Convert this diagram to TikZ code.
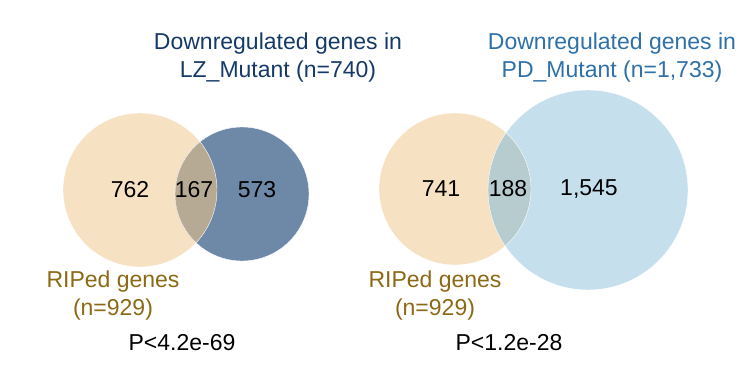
\documentclass[tikz,border=0pt]{standalone}
\usepackage{fontspec}
\setmainfont{Liberation Sans}
\definecolor{ripTan}{RGB}{246,225,194}
\definecolor{lzBlue}{RGB}{110,136,167}
\definecolor{lzLens}{RGB}{183,170,148}
\definecolor{pdBlue}{RGB}{197,223,236}
\definecolor{pdLens}{RGB}{183,204,206}
\definecolor{lzTitle}{RGB}{22,58,104}
\definecolor{pdTitle}{RGB}{46,112,168}
\definecolor{ripText}{RGB}{140,105,20}
\begin{document}
\begin{tikzpicture}[x=1pt,y=-1pt]
    \useasboundingbox (0,0) rectangle (754,382);

    % left venn
    \begin{scope}[shift={(0,0)}]
        \fill[ripTan] (140,190) circle (77);
        \fill[lzBlue] (242,194) circle (67);
        \begin{scope}
            \clip (140,190) circle (77);
            \fill[lzLens] (242,194) circle (67);
        \end{scope}
        \draw[white, thin] (242,194) circle (67);
        \draw[white, thin] (140,190) circle (77);

        \begin{scope}[every node/.style={font=\fontsize{23}{27}\selectfont, inner sep=0pt}]
            \node (lzLeft) at (130,190) {762};
            \node (lzMid) at (194,190) {167};
            \node (lzRight) at (257,190) {573};
        \end{scope}

        \begin{scope}[every node/.style={font=\fontsize{23}{28}\selectfont, align=center, inner sep=0pt}]
            \node[lzTitle] (lzTitle) at (278,58) {Downregulated genes in\\LZ\_Mutant (n=740)};
            \node[ripText] (lzRip) at (113,296) {RIPed genes\\(n=929)};
            \node (lzP) at (182,343) {P<4.2e-69};
        \end{scope}
    \end{scope}

    % right venn
    \begin{scope}[shift={(0,0)}]
        \fill[ripTan] (455,189) circle (76);
        \fill[pdBlue] (588,190) circle (100);
        \begin{scope}
            \clip (455,189) circle (76);
            \fill[pdLens] (588,190) circle (100);
        \end{scope}
        \draw[white, thin] (588,190) circle (100);
        \draw[white, thin] (455,189) circle (76);

        \begin{scope}[every node/.style={font=\fontsize{23}{27}\selectfont, inner sep=0pt}]
            \node (pdLeft) at (441,189) {741};
            \node (pdMid) at (508,189) {188};
            \node (pdRight) at (589,189) {1,545};
        \end{scope}

        \begin{scope}[every node/.style={font=\fontsize{23}{28}\selectfont, align=center, inner sep=0pt}]
            \node[pdTitle] (pdTitle) at (612,58) {Downregulated genes in\\PD\_Mutant (n=1,733)};
            \node[ripText] (pdRip) at (435,296) {RIPed genes\\(n=929)};
            \node (pdP) at (509,343) {P<1.2e-28};
        \end{scope}
    \end{scope}
\end{tikzpicture}
\end{document}
